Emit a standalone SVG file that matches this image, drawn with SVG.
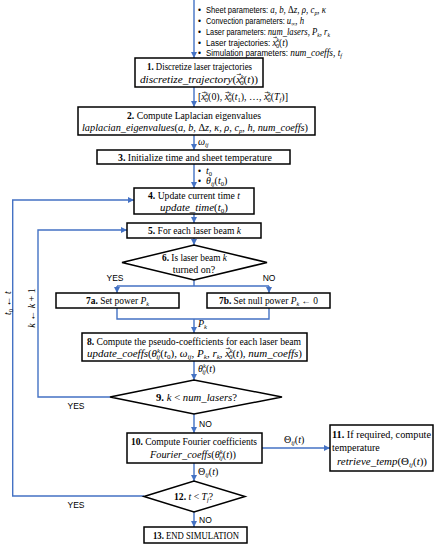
<svg xmlns="http://www.w3.org/2000/svg" width="439" height="550" viewBox="0 0 439 550">
<defs>
<style>
.box{fill:#fff;stroke:#000;stroke-width:1.5}
.c{fill:none;stroke:#4472C4;stroke-width:1.4}
.a{marker-end:url(#ah)}
.t{font-family:"Liberation Serif","DejaVu Serif",serif;font-size:10px;fill:#000}
.m{text-anchor:middle}
.b{font-weight:bold}
.i{font-style:italic}
.s{font-family:"Liberation Sans",Arial,sans-serif;font-size:8.5px;fill:#000}
.sm{font-size:6.5px}
.va{font-family:"DejaVu Sans",sans-serif;font-size:5px;font-style:normal}
</style>
<marker id="ah" markerUnits="userSpaceOnUse" markerWidth="6" markerHeight="6" refX="6" refY="3" orient="auto">
<path d="M0,0 L6,3 L0,6 z" fill="#4472C4"/>
</marker>
</defs>
<rect width="439" height="550" fill="#fff"/>

<g id="connectors">
<path class="c a" d="M194,0 V58"/>
<path class="c a" d="M194,87 V107"/>
<path class="c a" d="M194,135 V150"/>
<path class="c a" d="M194,164 V188"/>
<path class="c a" d="M194,214 V223"/>
<path class="c a" d="M194,238 V245"/>
<path class="c" d="M194,280 V286 M117,286 H269"/>
<path class="c a" d="M117,286 V293"/>
<path class="c a" d="M269,286 V293"/>
<path class="c" d="M117,308 V319 H269 V308"/>
<path class="c a" d="M194,319 V333"/>
<path class="c a" d="M194,361 V380"/>
<path class="c a" d="M110,397 H38 V230 H127"/>
<path class="c a" d="M194,414 V433"/>
<path class="c a" d="M262,448 H330"/>
<path class="c a" d="M194,463 V481"/>
<path class="c a" d="M144,496 H12.7 V200 H134"/>
<path class="c a" d="M194,512 V527"/>
</g>

<g id="labels">
<g class="s">
<text x="198" y="13">•</text>
<text x="198" y="24">•</text>
<text x="198" y="35">•</text>
<text x="198" y="45.5">•</text>
<text x="198" y="56">•</text>
<text x="206" y="13" textLength="120" lengthAdjust="spacingAndGlyphs">Sheet parameters: <tspan class="t i" font-size="9">a</tspan><tspan class="t" font-size="9">, </tspan><tspan class="t i" font-size="9">b</tspan><tspan class="t" font-size="9">,  Δ</tspan><tspan class="t i" font-size="9">z</tspan><tspan class="t" font-size="9">, </tspan><tspan class="t i" font-size="9">ρ</tspan><tspan class="t" font-size="9">, </tspan><tspan class="t i" font-size="9">c</tspan><tspan class="t i sm" dy="2">p</tspan><tspan class="t" font-size="9" dy="-2">, </tspan><tspan class="t i" font-size="9">κ</tspan></text>
<text x="206" y="24" textLength="98" lengthAdjust="spacingAndGlyphs">Convection parameters: <tspan class="t i" font-size="9">u</tspan><tspan class="t i sm" dy="2">∞</tspan><tspan class="t" font-size="9" dy="-2">, </tspan><tspan class="t i" font-size="9">h</tspan></text>
<text x="206" y="35" textLength="124" lengthAdjust="spacingAndGlyphs">Laser parameters: <tspan class="t i" font-size="9">num_lasers, P</tspan><tspan class="t i sm" dy="2">k</tspan><tspan class="t i" font-size="9" dy="-2">, r</tspan><tspan class="t i sm" dy="2">k</tspan></text>
<text x="206" y="45.5" textLength="82" lengthAdjust="spacingAndGlyphs">Laser trajectories: <tspan class="t i" font-size="9">x</tspan><tspan class="va" dx="-4" dy="-6.5">→</tspan><tspan class="t i sm" dx="-0.5" dy="2.5">k</tspan><tspan class="t sm" dx="-3.5" dy="6">0</tspan><tspan class="t" font-size="9" dy="-2">(</tspan><tspan class="t i" font-size="9">t</tspan><tspan class="t" font-size="9">)</tspan></text>
<text x="206" y="56" textLength="136" lengthAdjust="spacingAndGlyphs">Simulation parameters: <tspan class="t i" font-size="9">num_coeffs, t</tspan><tspan class="t i sm" dy="2">f</tspan></text>
</g>
<text class="t" x="198" y="100" font-size="9" textLength="90" lengthAdjust="spacingAndGlyphs">[<tspan class="i">x</tspan><tspan class="va" dx="-4" dy="-6.5">→</tspan><tspan class="i sm" dx="-0.5" dy="2.5">k</tspan><tspan class="sm" dx="-3.5" dy="6">0</tspan><tspan dy="-2">(0), </tspan><tspan class="i">x</tspan><tspan class="va" dx="-4" dy="-6.5">→</tspan><tspan class="i sm" dx="-0.5" dy="2.5">k</tspan><tspan class="sm" dx="-3.5" dy="6">0</tspan><tspan dy="-2">(</tspan><tspan class="i">t</tspan><tspan class="sm" dy="2">1</tspan><tspan dy="-2">), …, </tspan><tspan class="i">x</tspan><tspan class="va" dx="-4" dy="-6.5">→</tspan><tspan class="i sm" dx="-0.5" dy="2.5">k</tspan><tspan class="sm" dx="-3.5" dy="6">0</tspan><tspan dy="-2">(</tspan><tspan class="i">T</tspan><tspan class="i sm" dy="2">f</tspan><tspan dy="-2">)]</tspan></text>
<text class="t i" x="198" y="145" font-size="9">ω<tspan class="sm" dy="2">ij</tspan></text>
<text class="s" x="198" y="174">•</text>
<text class="s" x="198" y="184">•</text>
<text class="t i" x="206" y="174" font-size="9">t<tspan class="sm" dy="2" font-style="normal">0</tspan></text>
<text class="t i" x="206" y="184" font-size="9">θ<tspan class="sm" dy="2">ij</tspan><tspan dy="-2" font-style="normal">(</tspan>t<tspan class="sm" dy="2" font-style="normal">0</tspan><tspan dy="-2" font-style="normal">)</tspan></text>
<text class="s m" x="115" y="281">YES</text>
<text class="s m" x="269" y="281">NO</text>
<text class="t i" x="198" y="327" font-size="9">P<tspan class="sm" dy="2">k</tspan></text>
<text class="t i" x="198" y="372" font-size="9">θ<tspan class="sm" dy="-4">k</tspan><tspan class="sm" dx="-3.5" dy="6">ij</tspan><tspan dy="-2" font-style="normal">(</tspan>t<tspan font-style="normal">)</tspan></text>
<text class="s m" x="76" y="409">YES</text>
<text class="s" x="199" y="427">NO</text>
<text class="t" x="284" y="443" font-size="9">Θ<tspan class="i sm" dy="2">ij</tspan><tspan dy="-2">(</tspan><tspan class="i">t</tspan>)</text>
<text class="t" x="198" y="475" font-size="9">Θ<tspan class="i sm" dy="2">ij</tspan><tspan dy="-2">(</tspan><tspan class="i">t</tspan>)</text>
<text class="s m" x="76" y="508">YES</text>
<text class="s" x="199" y="523">NO</text>
<text class="t i m" transform="translate(10.5,303) rotate(-90)" font-size="9.5">t<tspan class="sm" dy="2" font-style="normal">0</tspan><tspan dy="-2" font-style="normal"> ← </tspan>t</text>
<text class="t i m" transform="translate(34.5,308) rotate(-90)" font-size="9.5">k<tspan font-style="normal"> ← </tspan>k<tspan font-style="normal"> + 1</tspan></text>
</g>

<g id="n1">
<rect class="box" x="135" y="58" width="128" height="29" stroke-width="1.8"/>
<text class="t" x="147" y="70" textLength="105" lengthAdjust="spacingAndGlyphs"><tspan class="b">1.</tspan> Discretize laser trajectories</text>
<text class="t i" x="140" y="83" textLength="118" lengthAdjust="spacingAndGlyphs">discretize_trajectory<tspan font-style="normal">(</tspan>x<tspan class="va" dx="-4.3" dy="-7">→</tspan><tspan class="sm" dx="-0.5" dy="3">k</tspan><tspan class="sm" dx="-3.5" dy="6" font-style="normal">0</tspan><tspan dy="-2" font-style="normal">(</tspan>t<tspan font-style="normal">))</tspan></text>
</g>
<g id="n2">
<rect class="box" x="78" y="107" width="237" height="28"/>
<text class="t" x="127" y="119" textLength="134" lengthAdjust="spacingAndGlyphs"><tspan class="b">2.</tspan> Compute Laplacian eigenvalues</text>
<text class="t i" x="82" y="131" textLength="226" lengthAdjust="spacingAndGlyphs">laplacian_eigenvalues<tspan font-style="normal">(</tspan>a, b, <tspan font-style="normal">Δ</tspan>z, κ, ρ, c<tspan class="sm" dy="2">p</tspan><tspan dy="-2">, h, num_coeffs</tspan><tspan font-style="normal">)</tspan></text>
</g>
<g id="n3">
<rect class="box" x="97" y="150" width="193" height="14"/>
<text class="t" x="118" y="160.5" textLength="154" lengthAdjust="spacingAndGlyphs"><tspan class="b">3.</tspan> Initialize time and sheet temperature</text>
</g>
<g id="n4">
<rect class="box" x="134" y="188" width="120" height="26"/>
<text class="t" x="148" y="199" textLength="92" lengthAdjust="spacingAndGlyphs"><tspan class="b">4.</tspan> Update current time <tspan class="i">t</tspan></text>
<text class="t i" x="160" y="210.5" textLength="68" lengthAdjust="spacingAndGlyphs">update_time<tspan font-style="normal">(</tspan>t<tspan class="sm" dy="2" font-style="normal">0</tspan><tspan dy="-2" font-style="normal">)</tspan></text>
</g>
<g id="n5">
<rect class="box" x="127" y="223" width="134" height="15"/>
<text class="t" x="148" y="234" textLength="93" lengthAdjust="spacingAndGlyphs"><tspan class="b">5.</tspan> For each laser beam <tspan class="i">k</tspan></text>
</g>
<g id="n6">
<polygon class="box" points="122,262.5 194,245 267,262.5 194,280"/>
<text class="t" x="162" y="261" textLength="65" lengthAdjust="spacingAndGlyphs"><tspan class="b">6.</tspan> Is laser beam <tspan class="i">k</tspan></text>
<text class="t m" x="194" y="272.5">turned on?</text>
</g>
<g id="n7a">
<rect class="box" x="56" y="293" width="123" height="15"/>
<text class="t" x="86" y="304" textLength="63" lengthAdjust="spacingAndGlyphs"><tspan class="b">7a.</tspan> Set power <tspan class="i">P</tspan><tspan class="i sm" dy="2">k</tspan></text>
</g>
<g id="n7b">
<rect class="box" x="207" y="293" width="123" height="15"/>
<text class="t" x="219" y="304" textLength="99" lengthAdjust="spacingAndGlyphs"><tspan class="b">7b.</tspan> Set null power <tspan class="i">P</tspan><tspan class="i sm" dy="2">k</tspan><tspan dy="-2"> ← 0</tspan></text>
</g>
<g id="n8">
<rect class="box" x="82" y="333" width="225" height="28"/>
<text class="t" x="87" y="344.5" textLength="214" lengthAdjust="spacingAndGlyphs"><tspan class="b">8.</tspan> Compute the pseudo-coefficients for each laser beam</text>
<text class="t i" x="87" y="357" textLength="215" lengthAdjust="spacingAndGlyphs">update_coeffs<tspan font-style="normal">(</tspan>θ<tspan class="sm" dy="-4">k</tspan><tspan class="sm" dx="-3.5" dy="6">ij</tspan><tspan dy="-2" font-style="normal">(</tspan>t<tspan class="sm" dy="2" font-style="normal">0</tspan><tspan dy="-2" font-style="normal">), </tspan>ω<tspan class="sm" dy="2">ij</tspan><tspan dy="-2">, P</tspan><tspan class="sm" dy="2">k</tspan><tspan dy="-2">, r</tspan><tspan class="sm" dy="2">k</tspan><tspan dy="-2">, x</tspan><tspan class="va" dx="-4.3" dy="-7">→</tspan><tspan class="sm" dx="-0.5" dy="3">k</tspan><tspan class="sm" dx="-3.5" dy="6" font-style="normal">0</tspan><tspan dy="-2" font-style="normal">(</tspan>t<tspan font-style="normal">), </tspan>num_coeffs<tspan font-style="normal">)</tspan></text>
</g>
<g id="n9">
<polygon class="box" points="110,397 194,380 282,397 194,414"/>
<text class="t" x="156" y="400.5" textLength="81" lengthAdjust="spacingAndGlyphs"><tspan class="b">9.</tspan> <tspan class="i">k</tspan> &lt; <tspan class="i">num_lasers</tspan>?</text>
</g>
<g id="n10">
<rect class="box" x="127" y="433" width="135" height="30"/>
<text class="t" x="131" y="444.5" textLength="126" lengthAdjust="spacingAndGlyphs"><tspan class="b">10.</tspan> Compute Fourier coefficients</text>
<text class="t i" x="150" y="458" textLength="86" lengthAdjust="spacingAndGlyphs">Fourier_coeffs<tspan font-style="normal">(</tspan>θ<tspan class="sm" dy="-4">k</tspan><tspan class="sm" dx="-3.5" dy="6">ij</tspan><tspan dy="-2" font-style="normal">(</tspan>t<tspan font-style="normal">))</tspan></text>
</g>
<g id="n11">
<rect class="box" x="330" y="425" width="103" height="46"/>
<text class="t" x="332" y="438" textLength="99" lengthAdjust="spacingAndGlyphs"><tspan class="b">11.</tspan> If required, compute</text>
<text class="t" x="332" y="450.5">temperature</text>
<text class="t i" x="337" y="464.5" textLength="90" lengthAdjust="spacingAndGlyphs">retrieve_temp<tspan font-style="normal">(Θ</tspan><tspan class="sm" dy="2">ij</tspan><tspan dy="-2" font-style="normal">(</tspan>t<tspan font-style="normal">))</tspan></text>
</g>
<g id="n12">
<polygon class="box" points="144,496.5 194,481 245,496.5 194,512"/>
<text class="t" x="174" y="500" textLength="39" lengthAdjust="spacingAndGlyphs"><tspan class="b">12.</tspan> <tspan class="i">t</tspan> &lt; <tspan class="i">T</tspan><tspan class="i sm" dy="2">f</tspan><tspan dy="-2">?</tspan></text>
</g>
<g id="n13">
<rect class="box" x="144" y="527" width="103" height="16"/>
<text class="t" x="153" y="539" textLength="86" lengthAdjust="spacingAndGlyphs"><tspan class="b">13.</tspan> END SIMULATION</text>
</g>
</svg>
